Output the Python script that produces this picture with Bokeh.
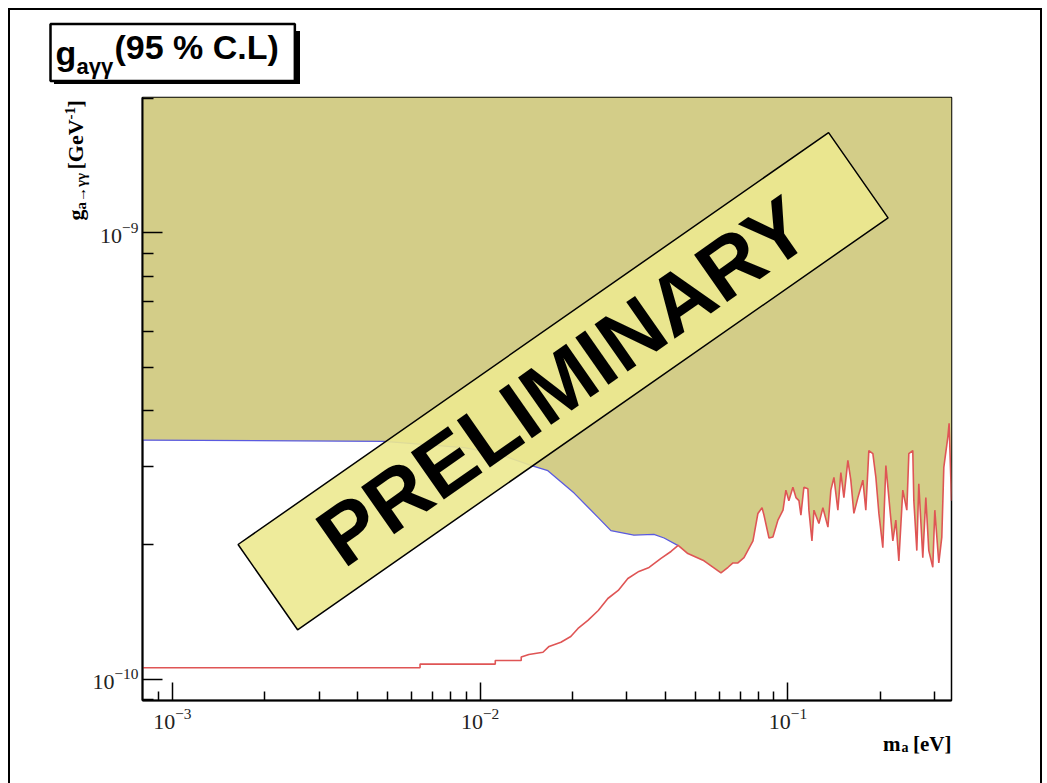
from bokeh.plotting import figure
from bokeh.models import Label, FixedTicker, Range1d
from bokeh.core.properties import value
from bokeh.embed import file_html
from bokeh.resources import INLINE

# ---------------- data ----------------
X_MIN, X_MAX = 8.0e-4, 0.340
Y_MIN, Y_MAX = 8.95e-11, 2.01e-9

X_MAJOR = [1e-3, 1e-2, 1e-1]
X_MINOR = [9e-4, 2e-3, 3e-3, 4e-3, 5e-3, 6e-3, 7e-3, 8e-3, 9e-3,
           2e-2, 3e-2, 4e-2, 5e-2, 6e-2, 7e-2, 8e-2, 9e-2, 2e-1, 3e-1]
Y_MAJOR = [1e-10, 1e-9]
Y_MINOR = [9e-11, 2e-10, 3e-10, 4e-10, 5e-10, 6e-10, 7e-10, 8e-10, 9e-10, 2e-9]

# red limit curve (m_a in eV, g in GeV^-1)
red_ma = [8.0e-4, 6.38e-3, 6.38e-3, 1.12e-2, 1.12e-2, 1.36e-2, 1.36e-2, 1.44e-2, 1.60e-2, 1.675e-2,
          1.83e-2, 1.97e-2, 2.08e-2, 2.24e-2, 2.42e-2, 2.60e-2, 2.81e-2, 3.02e-2, 3.28e-2, 3.54e-2,
          3.87e-2, 4.17e-2, 4.40e-2,
          4.73e-2, 5.34e-2, 6.06e-2, 6.39e-2, 6.63e-2, 6.88e-2, 7.20e-2, 7.70e-2, 7.99e-2, 8.24e-2,
          8.36e-2, 8.68e-2, 8.94e-2, 9.28e-2, 9.64e-2, 9.85e-2, 0.1007, 0.1038, 0.1062, 0.1086,
          0.1102, 0.1127, 0.1161, 0.1170, 0.1197, 0.1215, 0.1261, 0.1299, 0.1349, 0.1379,
          0.1411, 0.1453, 0.1486, 0.1520, 0.1566, 0.1601, 0.1638, 0.1688, 0.1752, 0.1791,
          0.1832, 0.1888, 0.1931, 0.1975, 0.2034, 0.2081, 0.2128, 0.2192, 0.2242, 0.2293,
          0.2362, 0.2434, 0.2471, 0.2545, 0.2565, 0.2623, 0.2662, 0.2743, 0.2806, 0.2869,
          0.2956, 0.3001, 0.3092, 0.3162, 0.3210, 0.3307, 0.3340, 0.3400]
red_g = [1.06e-10, 1.06e-10, 1.08e-10, 1.08e-10, 1.10e-10, 1.10e-10, 1.12e-10, 1.135e-10, 1.148e-10, 1.183e-10,
         1.209e-10, 1.245e-10, 1.298e-10, 1.353e-10, 1.424e-10, 1.515e-10, 1.579e-10, 1.680e-10, 1.742e-10, 1.778e-10,
         1.863e-10, 1.931e-10, 1.992e-10,
         1.91e-10, 1.84e-10, 1.73e-10, 1.78e-10, 1.82e-10, 1.82e-10, 1.87e-10, 2.04e-10, 2.35e-10, 2.42e-10,
         2.33e-10, 2.07e-10, 2.08e-10, 2.27e-10, 2.39e-10, 2.65e-10, 2.51e-10, 2.69e-10, 2.55e-10, 2.51e-10,
         2.33e-10, 2.69e-10, 2.67e-10, 2.39e-10, 2.04e-10, 2.39e-10, 2.23e-10, 2.42e-10, 2.19e-10, 2.65e-10,
         2.83e-10, 2.39e-10, 2.90e-10, 2.55e-10, 3.09e-10, 2.79e-10, 2.35e-10, 2.55e-10, 2.79e-10, 2.39e-10,
         3.25e-10, 3.20e-10, 2.83e-10, 2.35e-10, 1.97e-10, 3.01e-10, 2.55e-10, 2.04e-10, 2.27e-10, 1.84e-10,
         2.65e-10, 2.39e-10, 3.20e-10, 3.25e-10, 2.51e-10, 1.94e-10, 2.74e-10, 1.87e-10, 2.55e-10, 1.94e-10,
         1.78e-10, 2.39e-10, 1.82e-10, 2.08e-10, 2.98e-10, 3.48e-10, 3.74e-10, 2.51e-10]

# blue limit curve (until it meets the red one)
blue_ma = [8.0e-4, 4.88e-3, 8.87e-3, 1.14e-2, 1.46e-2, 1.66e-2, 2.02e-2, 2.42e-2, 2.66e-2,
           3.16e-2, 3.67e-2, 3.96e-2, 4.40e-2]
blue_g = [3.43e-10, 3.41e-10, 3.30e-10, 3.20e-10, 3.01e-10, 2.93e-10, 2.61e-10, 2.30e-10, 2.15e-10,
          2.10e-10, 2.11e-10, 2.07e-10, 1.99e-10]

# banner placement (data coords of its centre)
BANNER_X, BANNER_Y = 1.86e-2, 4.65e-10

# ---------------- colours / fonts ----------------
OLIVE = "#d3cd88"
BLUE = "#5a5ae0"
RED = "#df5555"
BANNER = "#ece990"
SERIF = "Liberation Serif"
SANS = "Liberation Sans"

p = figure(width=1047, height=783, x_axis_type="log", y_axis_type="log",
           x_range=Range1d(X_MIN, X_MAX), y_range=Range1d(Y_MIN, Y_MAX),
           output_backend="svg", toolbar_location=None,
           min_border_left=142, min_border_right=96, min_border_top=97, min_border_bottom=83)
p.background_fill_color = "white"
p.border_fill_color = None
p.xgrid.visible = False
p.ygrid.visible = False
p.outline_line_color = "black"
p.outline_line_width = 1.5
# outer canvas frame (left/top at 8-10 px, right at 1040-1042 px) and the title box shadow
p.styles = {
    "box-shadow": ("inset 8px 8px 0 0 white, inset -5px 0 0 0 white, "
                   "inset 10px 10px 0 0 black, inset -7px 0 0 0 black"),
    "background-image": "linear-gradient(black, black), linear-gradient(black, black)",
    "background-size": "4px 53px, 246px 4px",
    "background-position": "296px 31px, 54px 80px",
    "background-repeat": "no-repeat",
}

# excluded region: above blue, then above red beyond the meeting point
env_ma = list(blue_ma)
env_g = list(blue_g)
for m, g in zip(red_ma, red_g):
    if m > blue_ma[-1]:
        env_ma.append(m)
        env_g.append(g)
p.varea(x=env_ma, y1=env_g, y2=[Y_MAX] * len(env_ma), fill_color=OLIVE, fill_alpha=1.0)

p.line(blue_ma, blue_g, line_color=BLUE, line_width=1.3)
p.line(red_ma, red_g, line_color=RED, line_width=1.6)

# PRELIMINARY banner
p.rect(x=[BANNER_X], y=[BANNER_Y], width=720, height=104, width_units="screen", height_units="screen",
       angle=34.9, angle_units="deg", fill_color=BANNER, fill_alpha=0.9, line_color="black", line_width=1.5)
p.text(x=[BANNER_X], y=[BANNER_Y], text=["PRELIMINARY"], angle=34.9, angle_units="deg",
       text_align="center", text_baseline="middle", text_font=value(SANS), text_font_style="bold",
       text_font_size="84px", text_color="black")

# axes
for ax, maj, mnr, tin, tmin in [(p.xaxis, X_MAJOR, X_MINOR, 18, 9), (p.yaxis, Y_MAJOR, Y_MINOR, 20, 11)]:
    ax.ticker = FixedTicker(ticks=maj, minor_ticks=mnr)
    ax.major_tick_in = tin
    ax.major_tick_out = 0
    ax.minor_tick_in = tmin
    ax.minor_tick_out = 0
    ax.axis_line_width = 2
    ax.axis_line_color = "black"
    ax.major_tick_line_width = 1.5
    ax.minor_tick_line_width = 1.5
    ax.major_label_text_font = SERIF
    ax.major_label_text_font_size = "22px"
    ax.major_label_text_color = "#222222"
p.xaxis.major_label_standoff = 8
p.yaxis.major_label_standoff = 4


# Labels are put in side panels (so they are not clipped to the plot frame);
# they are positioned in canvas pixels, the panel only hosts them.
def lab(text, x, y, size, panel, font=SERIF, align="left", angle=0, **kw):
    p.add_layout(Label(x=x, y=y, x_units="canvas", y_units="canvas", text=text,
                       text_font=font, text_font_size=size, text_font_style="bold",
                       text_align=align, text_baseline="alphabetic", text_color="black",
                       angle=angle, angle_units="deg", **kw), panel)


# title box with its text
lab("(95 % C.L)", 50, 52, "34px", "above", font=SANS,
    padding=dict(left=64, right=16, top=4, bottom=15),
    border_line_color="black", border_line_width=2.5)
lab("g", 55, 52, "34px", "right", font=SANS)
lab("a\u03b3\u03b3", 76, 66, "22px", "right", font=SANS)

# x-axis title
lab("m", 900, 743, "21px", "right", align="right")
lab("a", 908, 747, "14px", "below", align="right")
lab("[eV]", 951, 743, "21px", "below", align="right")

# y-axis title (rotated)
lab("g", 75, 220, "22px", "above", angle=90)
lab("a\u2192\u03b3\u03b3", 80, 209, "15px", "left", angle=90)
lab("[GeV", 75, 169, "22px", "left", angle=90)
lab("-1", 69, 119, "15px", "right", angle=90)
lab("]", 75, 107, "22px", "left", angle=90)

open("out.html", "w").write(file_html(p, INLINE))
